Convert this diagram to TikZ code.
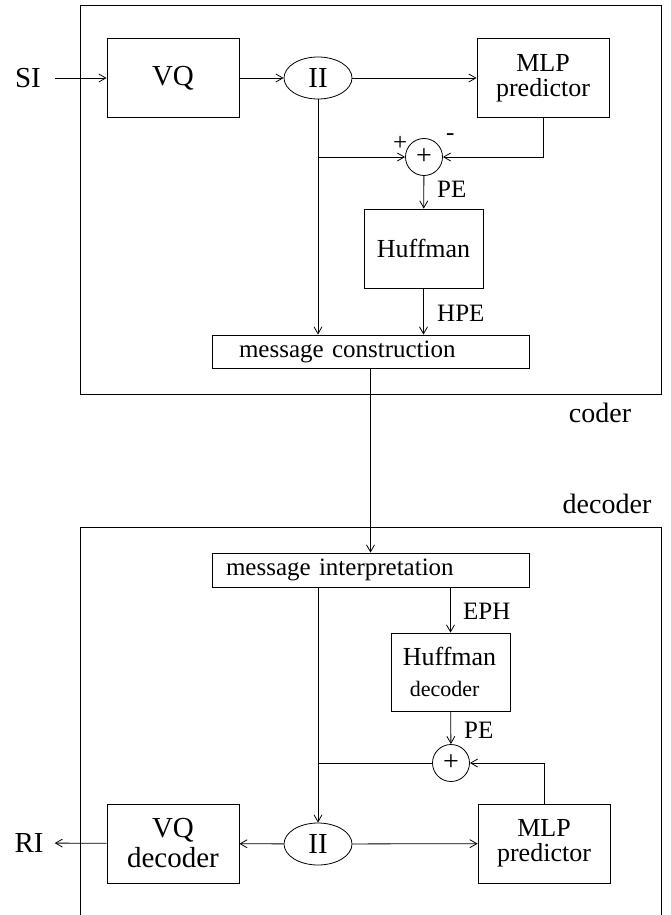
\documentclass[tikz,border=0pt]{standalone}
\usepackage{fontspec}
\setmainfont{Liberation Serif}
\usetikzlibrary{arrows.meta,shapes.geometric}

\tikzset{
	blk/.style={draw, line width=0.8pt, inner sep=0pt, align=center, font=\fontsize{26}{25}\selectfont},
	bigtxt/.style={font=\fontsize{29}{30}\selectfont},
	oval/.style={draw, ellipse, line width=0.8pt, minimum width=68pt, minimum height=42pt, inner sep=0pt, font=\fontsize{29}{29}\selectfont},
	summer/.style={draw, circle, line width=0.8pt, minimum size=37pt, inner sep=0pt, font=\fontsize{28}{28}\selectfont},
	lbl/.style={anchor=west, inner sep=0pt, font=\fontsize{25}{25}\selectfont},
	flow/.style={line width=0.8pt, -{Straight Barb[length=7pt,width=8pt,line width=0.8pt]}},
}

\begin{document}
\begin{tikzpicture}[x=1pt, y=-1pt]
		%%%%% START %%%%%
		\useasboundingbox (0,0) rectangle (671,915);
		
		% frames
		\draw[line width=0.8pt] (80,5) rectangle (661,394);
		\draw[line width=0.8pt] (80,915) -- (80,527) -- (661,527) -- (661,915);
		\node[anchor=center, inner sep=0pt, font=\fontsize{28}{28}\selectfont] (codertxt) at (600,413) {coder};
		\node[anchor=center, inner sep=0pt, font=\fontsize{28}{28}\selectfont] (decodertxt) at (607,504) {decoder};
		
		% coder
		\node[bigtxt, inner sep=0pt] (si) at (28,78) {SI};
		\node[blk, bigtxt, minimum width=132pt, minimum height=79pt] (vq) at (173,78) {VQ};
		\node[oval] (ii) at (318,78) {II};
		\node[blk, minimum width=132pt, minimum height=79pt] (mlp) at (543,78) {MLP\\predictor};
		\node[summer] (sum) at (424,157) {+};
		\node[blk, minimum width=119pt, minimum height=79pt] (huff) at (423.5,248.5) {Huffman};
		\node[blk, font=\fontsize{25}{25}\selectfont, minimum height=33pt, inner xsep=27pt, text width=263pt, align=left] (msg) at (370.5,351.5) {message construction};
		
		\draw[flow, shorten <=14pt] (si) -- (vq);
		\draw[flow] (vq) -- (ii);
		\draw[flow] (ii) -- (mlp);
		\draw[flow] (mlp.south) |- (sum.east);
		\draw[flow] (ii.south) -- (ii.south |- msg.north);
		\coordinate (tap) at (ii.south |- sum.west);
		\draw[flow] (tap) -- (sum.west);
		\draw[flow] (sum) -- (huff);
		\draw[flow] (huff) -- (huff.south |- msg.north);
		
		\node[lbl] (plus) at (393,143) {+};
		\node[lbl] (minus) at (446,137) {-};
		\node[lbl] (pe) at (437,189) {PE};
		\node[lbl] (hpe) at (437,313) {HPE};
		
		% link
		\node[blk, font=\fontsize{25}{25}\selectfont, minimum height=34pt, inner xsep=14pt, text width=289pt, align=left] (interp) at (370.5,570) {message interpretation};
		\draw[flow] (msg) -- (interp);
		
		% decoder
		\node[blk, minimum width=119pt, minimum height=78pt, align=left] (hdec) at (450.5,672) {\hspace*{-2pt}Huffman\\[6pt]{\fontsize{22}{22}\selectfont\hspace*{5pt}decoder}};
		\node[summer] (sum2) at (451,763) {+};
		\node[oval] (ii2) at (318,844) {II};
		\node[blk, bigtxt, minimum width=132pt, minimum height=79pt] (vqd) at (173,843.5) {VQ\\decoder};
		\node[blk, minimum width=132pt, minimum height=79pt] (mlp2) at (544,843.5) {MLP\\predictor};
		\node[bigtxt, inner sep=0pt] (ri) at (29,843) {RI};
		
		\draw[flow] (ii2 |- interp.south) -- (ii2.north);
		\draw[flow] (hdec |- interp.south) -- (hdec.north);
		\draw[flow] (hdec) -- (sum2);
		\draw[line width=0.8pt] (sum2.west) -- (sum2.west -| ii2);
		\draw[flow] (mlp2.north) |- (sum2.east);
		\draw[flow] (ii2) -- (vqd);
		\draw[flow] (ii2) -- (mlp2);
		\draw[flow, shorten >=11pt] (vqd) -- (ri);
		
		\node[lbl] (eph) at (463,611) {EPH};
		\node[lbl] (pe2) at (464,730) {PE};
		%%%%% END %%%%%
\end{tikzpicture}
\end{document}
